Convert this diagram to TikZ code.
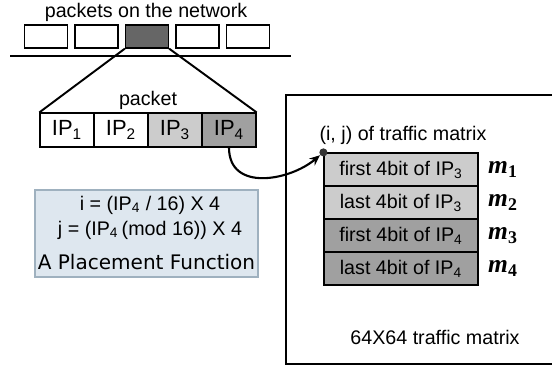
\documentclass[tikz,border=0pt]{standalone}
\usepackage{fontspec}
\setmainfont{Liberation Sans}
\newfontfamily\verdanafont{DejaVu Sans}
\newfontfamily\timesfont{Liberation Serif}
\usetikzlibrary{arrows.meta}
\definecolor{pktdark}{HTML}{666666}
\definecolor{iplight}{HTML}{CCCCCC}
\definecolor{ipdark}{HTML}{A0A0A0}
\definecolor{funcfill}{HTML}{DEE7EF}
\definecolor{funcline}{HTML}{9FB1BF}

\begin{document}
\begin{tikzpicture}[x=0.02cm, y=-0.02cm,
    font=\fontsize{11.2}{13.4}\selectfont,
    pkt/.style={draw, line width=0.7pt, minimum width=0.86cm, minimum height=0.46cm, inner sep=0pt},
    ipfield/.style={draw, line width=0.7pt, minimum width=1.08cm, minimum height=0.68cm, inner sep=0pt, font=\fontsize{12.5}{14}\selectfont},
    cell/.style={draw, line width=0.7pt, minimum width=3.08cm, minimum height=0.66cm, inner sep=0pt},
    mlabel/.style={font=\fontsize{14.5}{16}\selectfont\timesfont\bfseries\itshape}]
  \useasboundingbox (0, 0) rectangle (552, 368);
  % packets on the wire
  \node (nettitle) at (146, 12) {packets on the network};
  \foreach \i/\x/\c in {1/46/white, 2/96.5/white, 3/147/pktdark, 4/197.5/white, 5/248/white}
    \node [pkt, fill=\c] (p\i) at (\x, 36.5) {};
  \coordinate (netL) at (10, 56);
  \coordinate (netR) at (291, 56);
  \draw [line width=1.6pt] (netL) -- (netR);
  % one packet, opened up
  \node (pkttitle) at (148, 100) {packet};
  \foreach \i/\x/\c in {1/67/white, 2/121/white, 3/175/iplight, 4/229/ipdark}
    \node [ipfield, fill=\c] (ip\i) at (\x, 130) {IP\textsubscript{\i}};
  \draw [line width=1.1pt] (p3.south west) -- (ip1.north west);
  \draw [line width=1.1pt] (p3.south east) -- (ip4.north east);
  % placement function
  \node [draw=funcline, fill=funcfill, line width=0.8pt, minimum width=4.46cm, minimum height=1.74cm] (funcbox) at (146.5, 233.5) {};
  \node (ieq) at (150, 205) {i = (IP\textsubscript{4} / 16) X 4};
  \node (jeq) at (150, 230) {j = (IP\textsubscript{4}\,(mod 16)) X 4};
  \node [font=\fontsize{11.4}{13}\selectfont\verdanafont] (funcname) at (146.5, 262) {A Placement Function};
  % traffic matrix
  \draw [line width=1.4pt] (552, 95) -- (286, 95) -- (286, 364) -- (552, 364);
  \node (ijlabel) at (403, 135) {(i, j) of traffic matrix};
  \foreach \i/\y/\c/\t in {1/169.5/iplight/first 4bit of IP\textsubscript{3},
                           2/202.5/iplight/last 4bit of IP\textsubscript{3},
                           3/235.5/ipdark/first 4bit of IP\textsubscript{4},
                           4/268.5/ipdark/last 4bit of IP\textsubscript{4}}
  {
    \node [cell, fill=\c] (r\i) at (401, \y) {\t};
    \node [mlabel] (m\i) at (503, \y) {m\textsubscript{\upshape\i}};
  }
  \fill [black!80] (r1.north west) circle (2.3pt);
  \draw [line width=1.2pt, -{Stealth[length=6pt, width=5pt]}, shorten >=2.5pt] (ip4.south) to [out=-90, in=-140, looseness=1.2] (r1.north west);
  \node (mtxname) at (435, 337) {64X64 traffic matrix};
\end{tikzpicture}
\end{document}
